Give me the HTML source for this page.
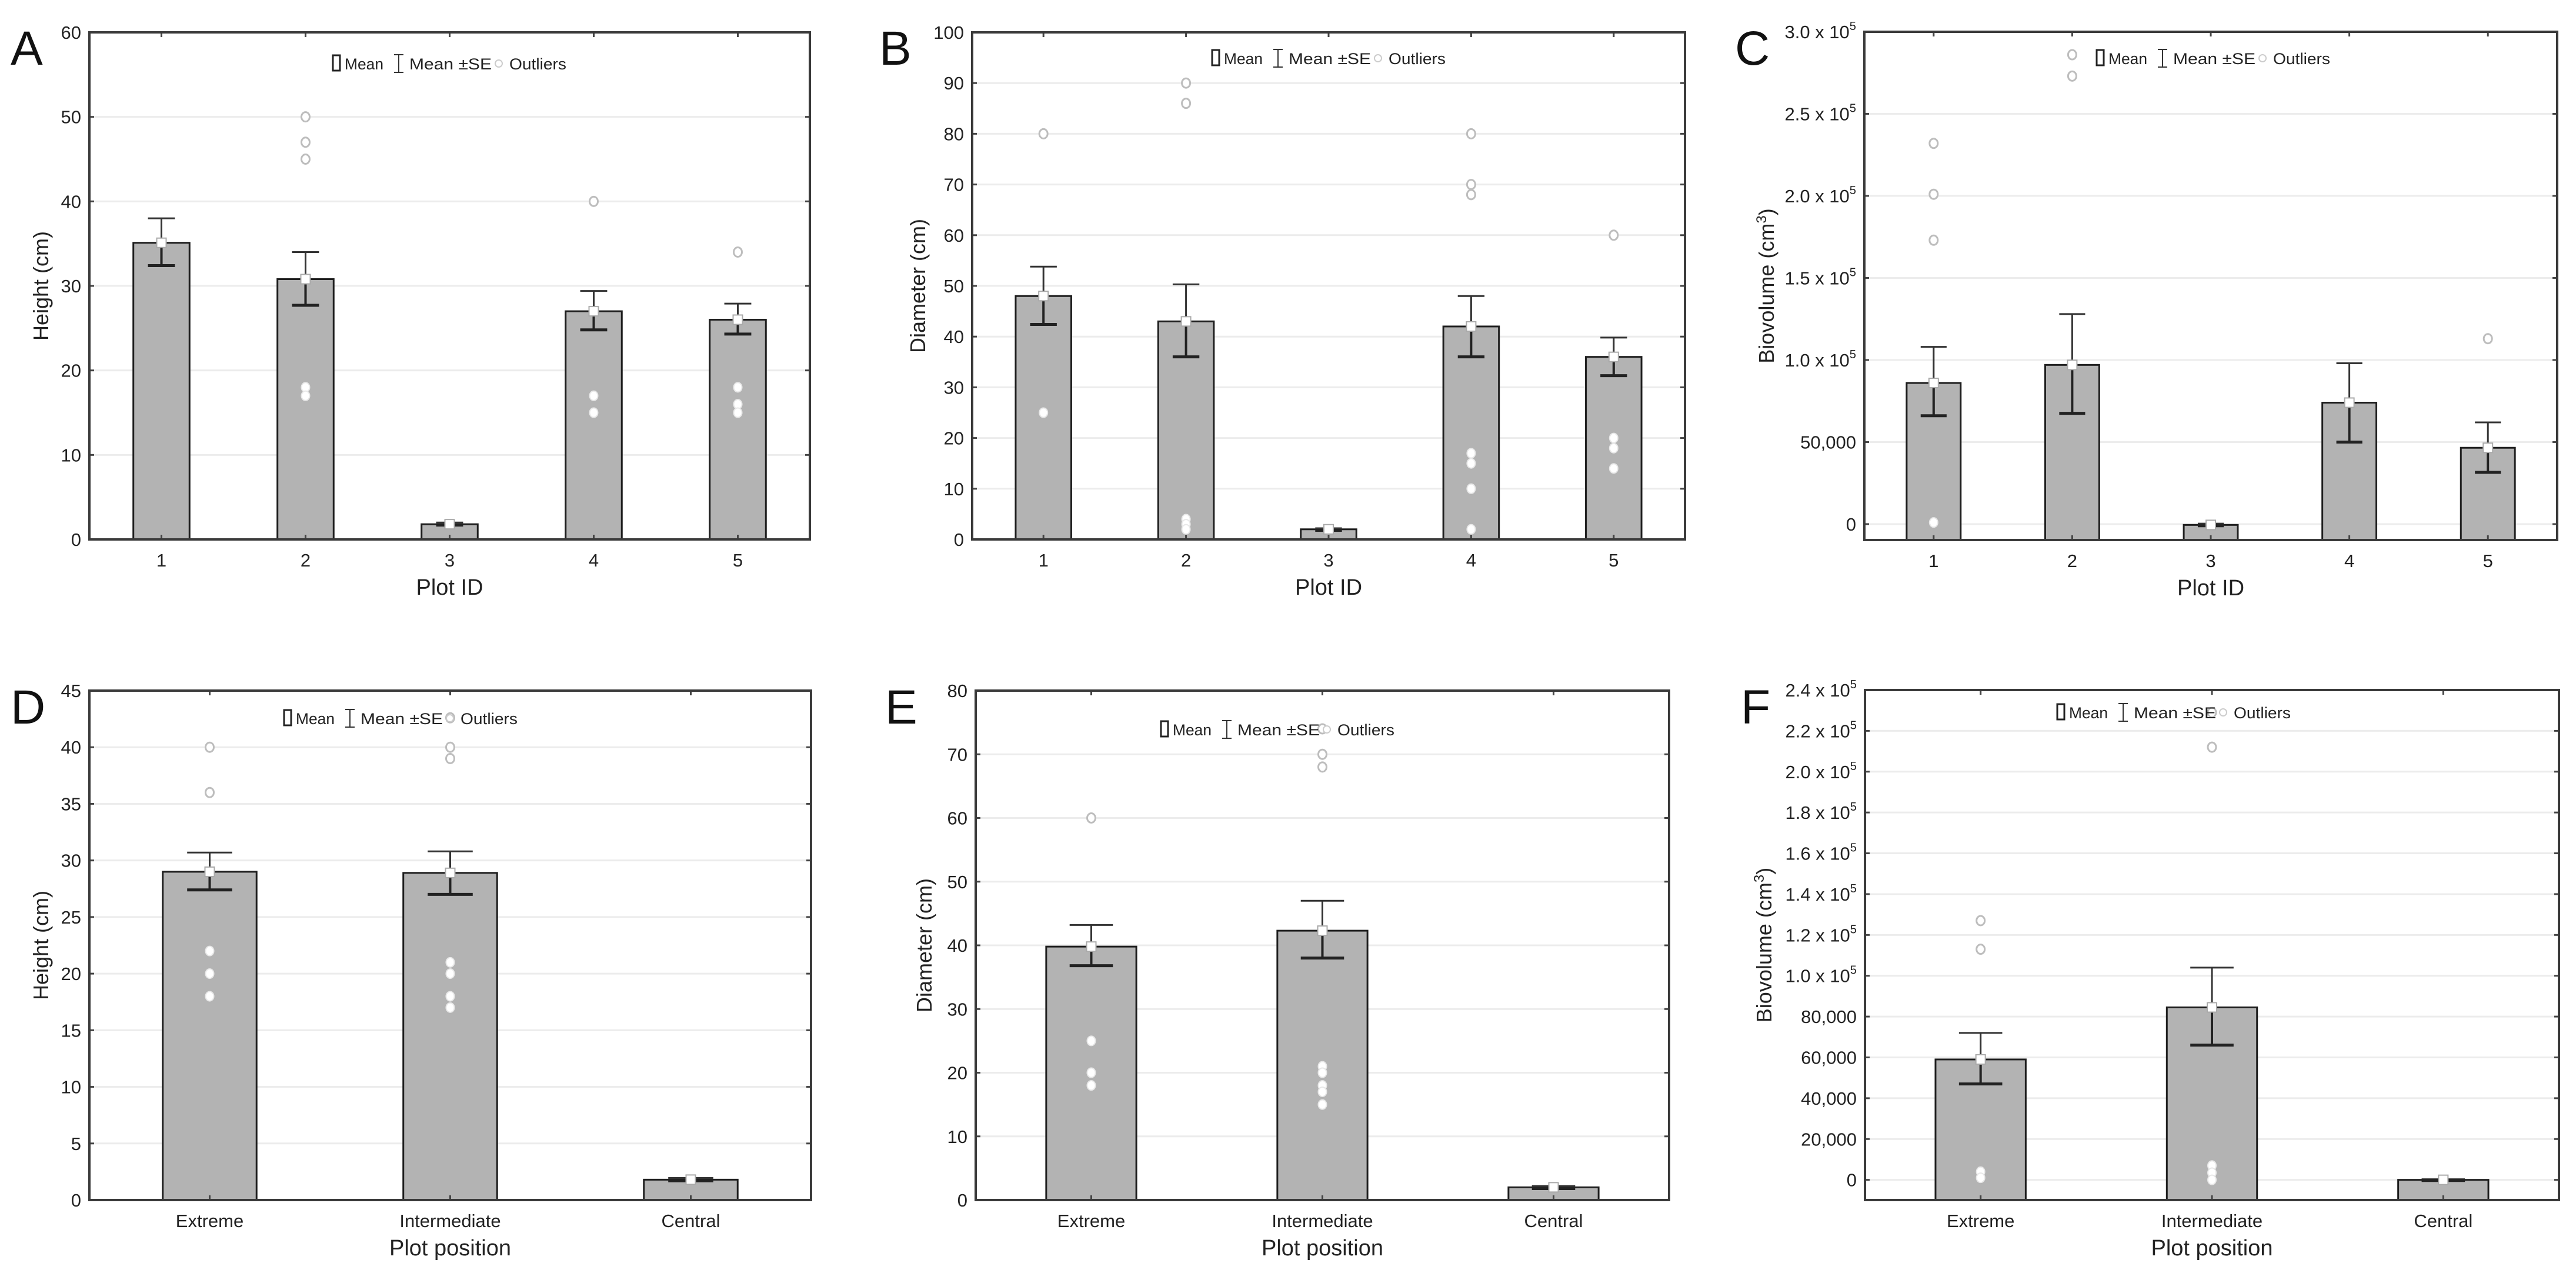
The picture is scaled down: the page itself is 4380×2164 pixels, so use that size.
<!DOCTYPE html>
<html><head><meta charset="utf-8"><style>
html,body{margin:0;padding:0;background:#fff;}
svg{display:block;font-family:"Liberation Sans",sans-serif;}
</style></head><body>
<svg id="chart" width="4380" height="2164" viewBox="0 0 4380 2164" xmlns="http://www.w3.org/2000/svg"></svg>
<script>
// ---- Panel A: Height by Plot ID ----
const catsA = ["1","2","3","4","5"];
const meanA = [35.1, 30.8, 1.8, 27, 26];
const seLoA = [32.4, 27.7, 1.7, 24.8, 24.3];
const seHiA = [38, 34, 2.0, 29.4, 27.9];
const outA = [[], [50,47,45], [], [40], [34]];
const inA = [[], [18,17], [], [17,15], [18,16,15]];
const ticksA = [0,10,20,30,40,50,60];
// ---- Panel B: Diameter by Plot ID ----
const catsB = ["1","2","3","4","5"];
const meanB = [48, 43, 2, 42, 36];
const seLoB = [42.4, 36, 1.8, 36, 32.3];
const seHiB = [53.8, 50.3, 2.2, 48, 39.8];
const outB = [[80], [90,86], [], [80,70,68], [60]];
const inB = [[25], [4,3,2], [], [17,15,10,2], [20,18,14]];
const ticksB = [0,10,20,30,40,50,60,70,80,90,100];
// ---- Panel C: Biovolume by Plot ID ----
const catsC = ["1","2","3","4","5"];
const meanC = [86000, 97000, -500, 74000, 46500];
const seLoC = [66000, 67500, -1000, 50000, 31500];
const seHiC = [108000, 128000, 300, 98000, 62000];
const outC = [[232000,201000,173000], [286000,273000], [], [], [113000]];
const inC = [[1000], [], [], [], []];
const ticksC = [0,50000,100000,150000,200000,250000,300000];
const tickLabelsC = ["0","50,000","1.0 x 10^5","1.5 x 10^5","2.0 x 10^5","2.5 x 10^5","3.0 x 10^5"];
// ---- Panel D: Height by plot position ----
const catsD = ["Extreme","Intermediate","Central"];
const meanD = [29, 28.9, 1.8];
const seLoD = [27.4, 27, 1.7];
const seHiD = [30.7, 30.8, 1.95];
const outD = [[40,36], [42.6,40,39], []];
const inD = [[22,20,18], [21,20,18,17], []];
const ticksD = [0,5,10,15,20,25,30,35,40,45];
// ---- Panel E: Diameter by plot position ----
const catsE = ["Extreme","Intermediate","Central"];
const meanE = [39.8, 42.3, 2];
const seLoE = [36.8, 38, 1.8];
const seHiE = [43.2, 47, 2.2];
const outE = [[60], [74,70,68], []];
const inE = [[25,20,18], [21,20,18,17,15], []];
const ticksE = [0,10,20,30,40,50,60,70,80];
// ---- Panel F: Biovolume by plot position ----
const catsF = ["Extreme","Intermediate","Central"];
const meanF = [59000, 84500, 0];
const seLoF = [47000, 66000, -300];
const seHiF = [72000, 104000, 300];
const outF = [[127000,113000], [229000,212000], []];
const inF = [[4000,1000], [7000,3500,0], []];
const ticksF = [0,20000,40000,60000,80000,100000,120000,140000,160000,180000,200000,220000,240000];
const tickLabelsF = ["0","20,000","40,000","60,000","80,000","1.0 x 10^5","1.2 x 10^5","1.4 x 10^5","1.6 x 10^5","1.8 x 10^5","2.0 x 10^5","2.2 x 10^5","2.4 x 10^5"];

const NS = "http://www.w3.org/2000/svg";
const svg = document.getElementById("chart");
function mk(tag, attrs, parent){
  const e = document.createElementNS(NS, tag);
  for (const k in attrs) e.setAttribute(k, attrs[k]);
  (parent||svg).appendChild(e);
  return e;
}
function addLabel(parent, x, y, str, size, anchor){
  const t = mk("text", {x:x, y:y, "font-size":size, "text-anchor":anchor, fill:"#222"}, parent);
  if (str.indexOf("^") >= 0){
    const parts = str.split("^");
    const a = document.createElementNS(NS,"tspan"); a.textContent = parts[0]; t.appendChild(a);
    const b = document.createElementNS(NS,"tspan"); b.textContent = parts[1];
    b.setAttribute("dy", -14); b.setAttribute("font-size", size*0.65); t.appendChild(b);
  } else t.textContent = str;
  return t;
}

function panel(cfg){
  const g = mk("g", {});
  
  
  const L=cfg.L, R=cfg.R, T=cfg.T, B=cfg.B;
  const y = v => B - (v - cfg.ymin) / (cfg.ymax - cfg.ymin) * (B - T);
  const n = cfg.cats.length, step = (R - L) / n;
  const x = i => L + step * (i + 0.5);
  // gridlines & ticks
  cfg.ticks.forEach((tv, i) => {
    const yy = y(tv);
    if (tv !== cfg.ymin && yy > T + 2) {
      const gl = mk("line", {x1:L, x2:R, y1:yy, y2:yy, stroke:"#ececec", "stroke-width":3}, g);
      
      
    }
    mk("line", {x1:L, x2:L+8, y1:yy, y2:yy, stroke:"#444", "stroke-width":3}, g);
    mk("line", {x1:R-8, x2:R, y1:yy, y2:yy, stroke:"#444", "stroke-width":3}, g);
    const lbl = cfg.tickLabels ? cfg.tickLabels[i] : String(tv);
    const tl = addLabel(g, L - 14, yy + 11, lbl, 31, "end");
    
    
  });
  // bars
  const bw = step * cfg.bwFrac;
  cfg.cats.forEach((c, i) => {
    const cx = x(i);
    const y0 = y(Math.max(0, cfg.ymin)), ym = y(cfg.mean[i]);
    const base = cfg.baseAtBottom ? B : y0;
    const top = Math.min(ym, base), h = Math.max(Math.abs(base - ym), 2);
    const bar = mk("rect", {x:cx-bw/2, y:top, width:bw, height:h, fill:"#b3b3b3", stroke:"#1e1e1e", "stroke-width":3}, g);
    
    
    // ticks on x axis
    mk("line", {x1:cx, x2:cx, y1:B, y2:B-8, stroke:"#444", "stroke-width":3}, g);
    mk("line", {x1:cx, x2:cx, y1:T, y2:T+8, stroke:"#444", "stroke-width":3}, g);
    // error bars
    const yl = y(cfg.seLo[i]), yh = y(cfg.seHi[i]), cw = bw * 0.48;
    const eb = mk("g", {stroke:"#333"}, g);
    
    
    mk("line", {x1:cx, x2:cx, y1:yh, y2:ym, "stroke-width":3}, eb);
    mk("line", {x1:cx, x2:cx, y1:ym, y2:yl, "stroke-width":4, stroke:"#222"}, eb);
    mk("line", {x1:cx-cw/2, x2:cx+cw/2, y1:yh, y2:yh, "stroke-width":3}, eb);
    mk("line", {x1:cx-cw/2, x2:cx+cw/2, y1:yl, y2:yl, "stroke-width":5, stroke:"#222"}, eb);
    // outliers
    cfg.out[i].forEach(v => {
      const o = mk("ellipse", {cx:cx, cy:y(v), rx:7, ry:8, fill:"#fff", stroke:"#bdbdbd", "stroke-width":3}, g);
      
      
    });
    cfg.inn[i].forEach(v => {
      const o = mk("ellipse", {cx:cx, cy:y(v), rx:7, ry:8, fill:"#fff", stroke:"#e8e8e8", "stroke-width":2}, g);
      
      
    });
    // mean marker
    const mm = mk("rect", {x:cx-8, y:ym-8, width:16, height:16, fill:"#fff", stroke:"#aaa", "stroke-width":2}, g);
    
    
    const xl = mk("text", {x:cx, y:B+46, "font-size":31, "text-anchor":"middle", fill:"#222"}, g);
    xl.textContent = c;
    
    
  });
  // frame
  const fr = mk("rect", {x:L, y:T, width:R-L, height:B-T, fill:"none", stroke:"#3a3a3a", "stroke-width":4}, g);
  
  
  // axis titles
  const xt = mk("text", {x:(L+R)/2, y:B+94, "font-size":38, "text-anchor":"middle", fill:"#222"}, g);
  xt.textContent = cfg.xTitle;
  
  
  const yt = mk("text", {x:0, y:0, "font-size":36, "text-anchor":"middle", fill:"#222", transform:"translate(" + cfg.ytx + "," + ((T+B)/2) + ") rotate(-90)"}, g);
  if (cfg.yCube) {
    yt.textContent = "Biovolume (cm";
    const s = document.createElementNS(NS,"tspan"); s.textContent="3"; s.setAttribute("dy",-13); s.setAttribute("font-size",24); yt.appendChild(s);
    const s2 = document.createElementNS(NS,"tspan"); s2.textContent=")"; s2.setAttribute("dy",13); yt.appendChild(s2);
  } else yt.textContent = cfg.yTitle;
  
  
  // panel letter
  const pl = mk("text", {x:cfg.lx, y:cfg.ly, "font-size":82, fill:"#111"}, g);
  pl.textContent = cfg.letter;
  
  
  // legend
  const lg = mk("g", {}, g);
  
  
  const lx = cfg.legX, ly = cfg.legY;
  mk("rect", {x:lx, y:ly-14, width:12, height:26, fill:"#fff", stroke:"#222", "stroke-width":3}, lg);
  const t1 = mk("text", {x:lx+20, y:ly+10, "font-size":27, fill:"#222", textLength:66, lengthAdjust:"spacingAndGlyphs"}, lg);
  t1.textContent = "Mean";
  mk("line", {x1:lx+112, x2:lx+112, y1:ly-15, y2:ly+15, stroke:"#333", "stroke-width":2}, lg);
  mk("line", {x1:lx+104, x2:lx+120, y1:ly-15, y2:ly-15, stroke:"#333", "stroke-width":2}, lg);
  mk("line", {x1:lx+104, x2:lx+120, y1:ly+15, y2:ly+15, stroke:"#333", "stroke-width":2}, lg);
  const t2 = mk("text", {x:lx+130, y:ly+10, "font-size":27, fill:"#222", textLength:140, lengthAdjust:"spacingAndGlyphs"}, lg);
  t2.textContent = "Mean  ±SE";
  mk("circle", {cx:lx+282, cy:ly, r:6, fill:"#fff", stroke:"#ccc", "stroke-width":2}, lg);
  const t3 = mk("text", {x:lx+300, y:ly+10, "font-size":27, fill:"#222", textLength:97, lengthAdjust:"spacingAndGlyphs"}, lg);
  t3.textContent = "Outliers";
}

panel({letter:"A", L:152, R:1377, T:55, B:917, ymin:0, ymax:60, ticks:ticksA, cats:catsA, mean:meanA, seLo:seLoA, seHi:seHiA, out:outA, inn:inA, bwFrac:0.39, xTitle:"Plot ID", yTitle:"Height (cm)", ytx:82, lx:18, ly:110, legX:566, legY:108});
panel({letter:"B", L:1653, R:2865, T:55, B:917, ymin:0, ymax:100, ticks:ticksB, cats:catsB, mean:meanB, seLo:seLoB, seHi:seHiB, out:outB, inn:inB, bwFrac:0.39, xTitle:"Plot ID", yTitle:"Diameter (cm)", ytx:1573, lx:1495, ly:110, legX:2061, legY:99});
panel({letter:"C", L:3170, R:4348, T:54, B:918, ymin:-9700, ymax:300000, ticks:ticksC, tickLabels:tickLabelsC, cats:catsC, mean:meanC, seLo:seLoC, seHi:seHiC, out:outC, inn:inC, bwFrac:0.39, baseAtBottom:true, xTitle:"Plot ID", yCube:true, ytx:3016, lx:2950, ly:110, legX:3565, legY:99});
panel({letter:"D", L:152, R:1379, T:1174, B:2040, ymin:0, ymax:45, ticks:ticksD, cats:catsD, mean:meanD, seLo:seLoD, seHi:seHiD, out:outD, inn:inD, bwFrac:0.39, xTitle:"Plot position", yTitle:"Height (cm)", ytx:82, lx:18, ly:1230, legX:483, legY:1221});
panel({letter:"E", L:1659, R:2838, T:1174, B:2040, ymin:0, ymax:80, ticks:ticksE, cats:catsE, mean:meanE, seLo:seLoE, seHi:seHiE, out:outE, inn:inE, bwFrac:0.39, xTitle:"Plot position", yTitle:"Diameter (cm)", ytx:1584, lx:1505, ly:1230, legX:1974, legY:1240});
panel({letter:"F", L:3171, R:4351, T:1173, B:2040, ymin:-9900, ymax:240000, ticks:ticksF, tickLabels:tickLabelsF, cats:catsF, mean:meanF, seLo:seLoF, seHi:seHiF, out:outF, inn:inF, bwFrac:0.39, baseAtBottom:true, xTitle:"Plot position", yCube:true, ytx:3012, lx:2960, ly:1230, legX:3498, legY:1211});
</script>
</body></html>
